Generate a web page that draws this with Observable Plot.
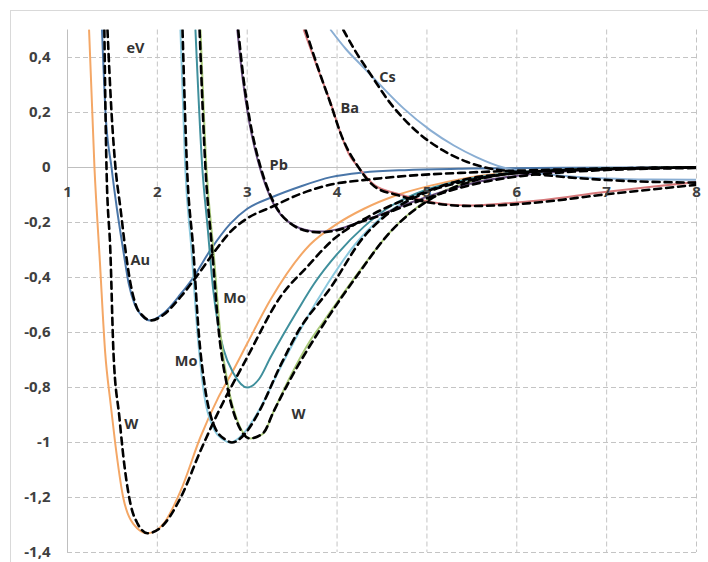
<!DOCTYPE html>
<html>
<head>
<meta charset="utf-8">
<script src="https://cdn.jsdelivr.net/npm/d3@7"></script>
<script src="https://cdn.jsdelivr.net/npm/@observablehq/plot@0.6"></script>
<style>
  body { margin: 0; background: #fff; }
  #wrap { position: relative; width: 708px; height: 562px; overflow: hidden; background: #fff; }
  #frame { position: absolute; left: 10px; top: 10px; width: 700px; height: 560px; border: 1px solid #d9d9d9; box-sizing: border-box; }
  #chart { position: absolute; left: 0; top: 0; }
</style>
</head>
<body>
<div id="wrap"><div id="frame"></div><div id="chart"></div></div>
<script>
// ---- data (x: distance, y: energy in eV) ----
const xTicks = [1, 2, 3, 4, 5, 6, 7, 8];
const xTickLabels = ["1", "2", "3", "4", "5", "6", "7", "8"];
const yTicks = [0.4, 0.2, 0, -0.2, -0.4, -0.6, -0.8, -1, -1.2, -1.4];
const yTickLabels = ["0,4", "0,2", "0", "-0,2", "-0,4", "-0,6", "-0,8", "-1", "-1,2", "-1,4"];

// solid curves
const wSolidA = [[1.24,0.5],[1.30,0],[1.36,-0.34],[1.42,-0.676],[1.48,-0.86],[1.53,-1.0],[1.62,-1.2],[1.73,-1.295],[1.89,-1.33],[2.07,-1.295],[2.26,-1.175],[2.48,-0.98],[2.68,-0.835],[2.84,-0.74],[3.0,-0.64],[3.26,-0.48],[3.7,-0.28],[4.0,-0.205],[4.3,-0.15],[4.67,-0.10],[5.04,-0.066],[5.48,-0.036],[6.0,-0.016],[6.5,-0.007],[7.0,-0.003],[8.0,0]];
const auSolid = [[1.384,0.5],[1.423,0.2],[1.49,0],[1.55,-0.15],[1.62,-0.30],[1.68,-0.42],[1.75,-0.50],[1.83,-0.54],[1.92,-0.556],[2.07,-0.53],[2.26,-0.46],[2.40,-0.40],[2.59,-0.30],[2.81,-0.205],[3.0,-0.15],[3.26,-0.11],[3.6,-0.068],[3.93,-0.035],[4.29,-0.018],[4.8,-0.009],[5.48,-0.004],[6.5,-0.001],[8.0,0]];
const moSolidA = [[2.257,0.5],[2.31,0],[2.38,-0.30],[2.446,-0.60],[2.51,-0.80],[2.62,-0.945],[2.735,-0.99],[2.81,-1.0],[2.96,-0.967],[3.11,-0.895],[3.37,-0.727],[3.63,-0.567],[3.9,-0.42],[4.2,-0.28],[4.5,-0.18],[5.0,-0.085],[5.5,-0.04],[6.0,-0.018],[7.0,-0.004],[8.0,0]];
const moSolidB = [[2.424,0.5],[2.50,0],[2.56,-0.22],[2.62,-0.44],[2.68,-0.58],[2.735,-0.66],[2.85,-0.75],[3.0,-0.80],[3.13,-0.77],[3.26,-0.69],[3.56,-0.52],[3.75,-0.42],[4.0,-0.315],[4.3,-0.215],[4.6,-0.14],[5.0,-0.08],[5.5,-0.04],[6.0,-0.018],[7.0,-0.004],[8.0,0]];
const wSolidB = [[2.48,0.5],[2.546,0],[2.624,-0.30],[2.70,-0.60],[2.79,-0.80],[2.89,-0.92],[3.04,-0.985],[3.18,-0.967],[3.29,-0.89],[3.48,-0.76],[3.7,-0.63],[3.85,-0.56],[4.0,-0.49],[4.23,-0.385],[4.59,-0.235],[5.04,-0.11],[5.5,-0.05],[6.0,-0.02],[7.0,-0.005],[8.0,0]];
const pbSolid = [[2.89,0.5],[2.95,0.32],[3.02,0.17],[3.08,0.075],[3.14,0],[3.21,-0.07],[3.29,-0.13],[3.37,-0.17],[3.45,-0.195],[3.63,-0.225],[3.81,-0.233],[4.0,-0.225],[4.29,-0.193],[4.45,-0.175],[4.8,-0.13],[5.2,-0.085],[5.6,-0.05],[6.0,-0.03],[6.5,-0.015],[7.0,-0.007],[8.0,0]];
const baSolid = [[3.63,0.5],[3.78,0.364],[3.93,0.233],[4.04,0.124],[4.13,0.05],[4.24,0],[4.42,-0.065],[4.67,-0.095],[5.04,-0.125],[5.48,-0.138],[5.82,-0.132],[6.3,-0.118],[6.93,-0.091],[7.5,-0.07],[8.0,-0.053]];
const csSolid = [[3.93,0.5],[4.1,0.43],[4.29,0.365],[4.48,0.30],[4.74,0.215],[5.04,0.135],[5.3,0.08],[5.55,0.038],[5.85,0],[6.1,-0.015],[6.5,-0.03],[7.0,-0.04],[7.5,-0.044],[8.0,-0.045]];

// dashed (fitted) curves
const wFitA = [[1.41,0.5],[1.434,0],[1.478,-0.313],[1.512,-0.676],[1.578,-0.91],[1.623,-1.055],[1.70,-1.222],[1.78,-1.295],[1.89,-1.33],[2.035,-1.31],[2.26,-1.2],[2.48,-1.03],[2.67,-0.895],[3.0,-0.69],[3.37,-0.47],[3.67,-0.36],[3.93,-0.27],[4.37,-0.175],[4.89,-0.10],[5.4,-0.045],[6.0,-0.02],[7.0,-0.006],[8.0,0]];
const auFit = [[1.445,0.5],[1.49,0.2],[1.534,0],[1.59,-0.15],[1.645,-0.30],[1.70,-0.42],[1.76,-0.50],[1.84,-0.54],[1.93,-0.556],[2.07,-0.535],[2.26,-0.47],[2.45,-0.39],[2.65,-0.30],[2.81,-0.235],[3.0,-0.185],[3.26,-0.145],[3.6,-0.095],[3.93,-0.062],[4.29,-0.046],[4.8,-0.03],[5.48,-0.018],[6.5,-0.007],[8.0,0]];
const moFitA = [[2.28,0.5],[2.33,0],[2.40,-0.30],[2.46,-0.60],[2.53,-0.80],[2.64,-0.945],[2.76,-0.99],[2.83,-1.0],[2.97,-0.97],[3.12,-0.895],[3.37,-0.72],[3.56,-0.60],[3.93,-0.436],[4.29,-0.255],[4.6,-0.16],[5.0,-0.09],[5.5,-0.045],[6.0,-0.02],[7.0,-0.005],[8.0,0]];
const wFitB = [[2.47,0.5],[2.535,0],[2.61,-0.30],[2.685,-0.60],[2.78,-0.80],[2.88,-0.92],[3.03,-0.985],[3.18,-0.965],[3.29,-0.89],[3.48,-0.77],[3.85,-0.57],[4.23,-0.39],[4.59,-0.235],[5.04,-0.115],[5.5,-0.05],[6.0,-0.02],[7.0,-0.005],[8.0,0]];
const pbFit = [[2.9,0.5],[2.96,0.32],[3.03,0.17],[3.09,0.075],[3.15,0],[3.22,-0.07],[3.30,-0.13],[3.38,-0.172],[3.46,-0.198],[3.63,-0.228],[3.81,-0.236],[4.0,-0.228],[4.29,-0.195],[4.45,-0.178],[4.8,-0.135],[5.2,-0.09],[5.6,-0.055],[6.0,-0.033],[6.5,-0.018],[7.0,-0.009],[8.0,-0.002]];
const baFit = [[3.65,0.5],[3.79,0.36],[3.93,0.23],[4.05,0.115],[4.24,0],[4.42,-0.07],[4.67,-0.10],[5.04,-0.128],[5.48,-0.14],[5.82,-0.137],[6.3,-0.125],[6.93,-0.1],[7.5,-0.08],[8.0,-0.063]];
const csFit = [[4.07,0.5],[4.2,0.425],[4.37,0.34],[4.59,0.235],[4.89,0.13],[5.18,0.062],[5.45,0.02],[5.65,0],[6.0,-0.016],[6.74,-0.04],[7.3,-0.05],[8.0,-0.055]];

// curve labels
const labelText = ["eV", "Au", "Mo", "Mo", "W", "W", "Pb", "Ba", "Cs"];
const labelX = [1.756, 1.81, 2.32, 2.86, 1.71, 3.57, 3.35, 4.14, 4.56];
const labelY = [0.433, -0.338, -0.705, -0.476, -0.935, -0.898, 0.007, 0.215, 0.327];

// ---- styles ----
const solidSeries = [
  {pts: wSolidA, color: "#f4a766"},
  {pts: auSolid, color: "#4a76a8"},
  {pts: moSolidA, color: "#8cc9de"},
  {pts: moSolidB, color: "#3f8f9c"},
  {pts: wSolidB, color: "#a9c97a"},
  {pts: pbSolid, color: "#6a4f80"},
  {pts: baSolid, color: "#d6797b"},
  {pts: csSolid, color: "#8aaed3"}
];
const fitSeries = [wFitA, auFit, moFitA, wFitB, pbFit, baFit, csFit];

const labels = labelText.map((t, i) => ({t, x: labelX[i], y: labelY[i]}));
const xLab = xTicks.map((v, i) => ({x: v, y: 0, t: xTickLabels[i]}));
const yLab = yTicks.map((v, i) => ({y: v, t: yTickLabels[i]}));
const xGrid = xTicks.filter(v => v > 1);
const yGrid = yTicks.filter(v => v !== 0);

const font = "'Open Sans', Lato, sans-serif";
const marks = [
  Plot.ruleX(xGrid, {x: d => d, stroke: "#c4c4c4", strokeWidth: 1, strokeDasharray: "5 3"}),
  Plot.ruleY(yGrid, {y: d => d, stroke: "#c4c4c4", strokeWidth: 1, strokeDasharray: "5 3"}),
  Plot.ruleY([0], {stroke: "#bfbfbf", strokeWidth: 1}),
  Plot.ruleX([1], {stroke: "#bfbfbf", strokeWidth: 1})
];
for (const s of solidSeries) {
  marks.push(Plot.line(s.pts, {x: d => d[0], y: d => d[1], stroke: s.color, strokeWidth: 2, curve: "monotone-x", clip: true}));
}
for (const f of fitSeries) {
  marks.push(Plot.line(f, {x: d => d[0], y: d => d[1], stroke: "#000", strokeWidth: 2.6, strokeDasharray: "7,5", curve: "monotone-x", clip: true}));
}
marks.push(
  Plot.text(labels, {x: "x", y: "y", text: "t", fontSize: 14.5, fontWeight: "bold", fill: "#333"}),
  Plot.text(xLab, {x: "x", y: "y", text: "t", dy: 25, fontSize: 15, fontWeight: "bold", fill: "#404040"}),
  Plot.text(yLab, {y: "y", text: "t", frameAnchor: "left", textAnchor: "end", dx: -17, fontSize: 15, fontWeight: "bold", fill: "#404040"})
);

const chart = Plot.plot({
  width: 708,
  height: 562,
  marginLeft: 67,
  marginRight: 12,
  marginTop: 29.5,
  marginBottom: 10,
  x: {domain: [1, 8], axis: null},
  y: {domain: [-1.4, 0.5], axis: null},
  style: {fontFamily: font, background: "transparent", overflow: "visible"},
  marks
});
document.getElementById("chart").appendChild(chart);
</script>
</body>
</html>
